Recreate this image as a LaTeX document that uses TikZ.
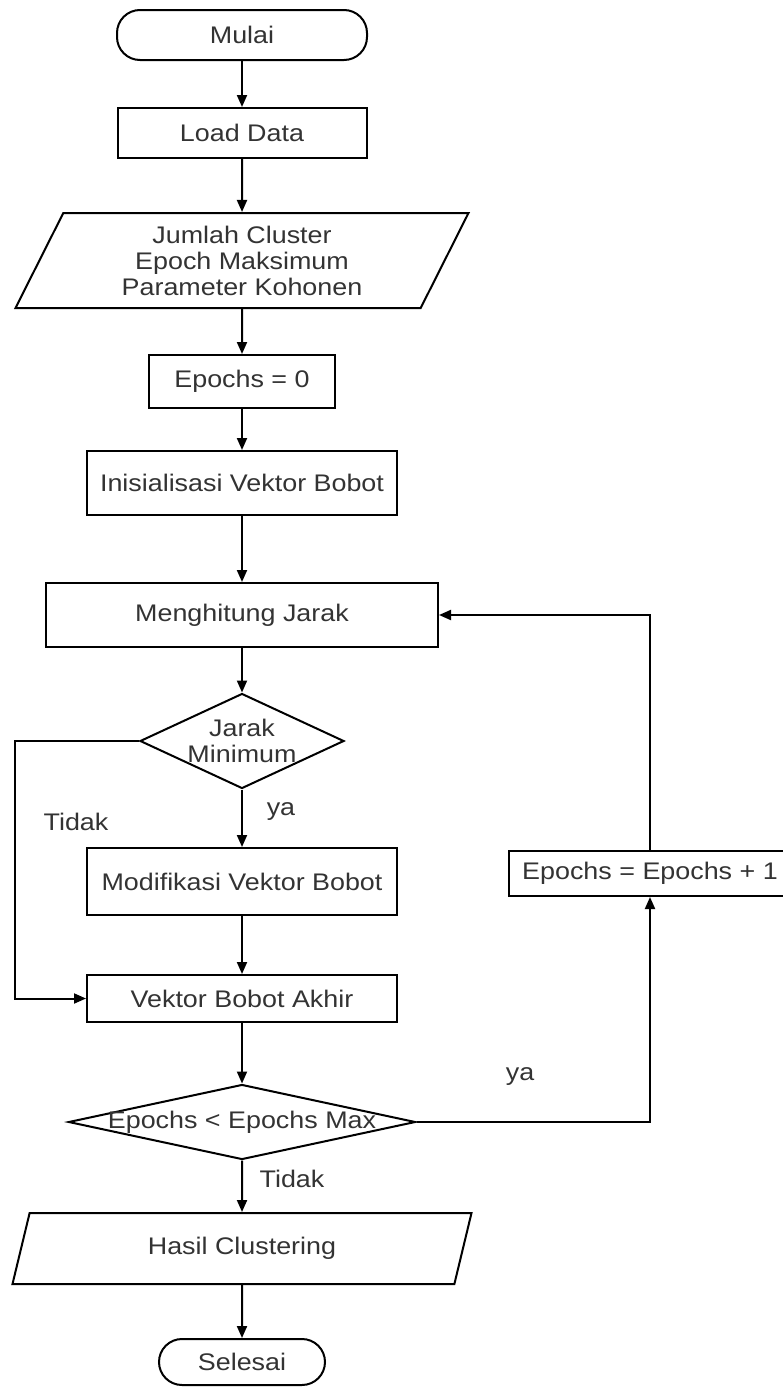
\documentclass[tikz,border=0pt]{standalone}
\usepackage{fontspec}
\setmainfont{Liberation Sans}[FakeStretch=1.12]
\usetikzlibrary{shapes}
\usetikzlibrary{shapes.geometric}
\usetikzlibrary{arrows.meta}

\tikzset{
  base/.style={draw, line width=2pt, text=black!80, inner sep=2pt},
  terminal/.style={base, rectangle, rounded corners=23pt},
  proses/.style={base, rectangle},
  io/.style={base, trapezium, trapezium left angle=57, trapezium right angle=123, trapezium stretches body, align=center},
  keputusan/.style={base, diamond, inner sep=0pt},
  teks/.style={text=black!80},
  panah/.style={line width=2pt, -{Triangle[length=12pt,width=10pt]}},
}

\begin{document}
\begin{tikzpicture}[x=1pt, y=-1pt, font=\fontsize{24}{26}\selectfont]
        \useasboundingbox (0,0) rectangle (783,1387);
        \node[terminal, minimum width=250pt, minimum height=50pt] at (242,35) (mulai) {Mulai};
        \node[proses, minimum width=249pt, minimum height=50pt] at (242,133) (load) {Load Data};
        \node[io, minimum width=453pt, minimum height=95pt] at (242,260.5) (param) {Jumlah Cluster\\Epoch Maksimum\\Parameter Kohonen};
        \node[proses, minimum width=186pt, minimum height=53pt] at (242,381.5) (epoch0) {Epochs = 0};
        \node[proses, minimum width=310pt, minimum height=64pt] at (242,483) (inisial) {Inisialisasi Vektor Bobot};
        \node[proses, minimum width=392pt, minimum height=64pt] at (242,615) (hitung) {Menghitung Jarak};
        \node[keputusan, minimum width=204pt, minimum height=95pt, label={[align=center, teks]center:Jarak\\Minimum}] at (242,741) (jarak) {};
        \node[proses, minimum width=310pt, minimum height=67pt] at (242,881.5) (modif) {Modifikasi Vektor Bobot};
        \node[proses, minimum width=310pt, minimum height=47pt] at (242,998.5) (akhir) {Vektor Bobot Akhir};
        \node[keputusan, minimum width=347pt, minimum height=75pt, label={[teks]center:Epochs < Epochs Max}] at (242,1122) (cek) {};
        \node[io, minimum width=459pt, minimum height=71pt] at (242,1248.5) (hasil) {Hasil Clustering};
        \node[terminal, minimum width=166pt, minimum height=46pt] at (242,1362) (selesai) {Selesai};
        \node[proses, minimum width=282pt, minimum height=45pt] at (650,873.5) (tambah) {Epochs = Epochs + 1};
        \coordinate (kiri) at (15,741);
        \node[teks] at (281,812) (ya1) {ya};
        \node[teks] at (76,822) (tidak1) {Tidak};
        \node[teks] at (520,1077) (ya2) {ya};
        \node[teks] at (292,1179) (tidak2) {Tidak};
        \draw[panah] (mulai) -- (load);
        \draw[panah] (load) -- (param);
        \draw[panah] (param) -- (epoch0);
        \draw[panah] (epoch0) -- (inisial);
        \draw[panah] (inisial) -- (hitung);
        \draw[panah] (hitung) -- (jarak);
        \draw[panah] (jarak) -- (modif);
        \draw[panah] (modif) -- (akhir);
        \draw[panah] (jarak.west) -- (kiri) |- (akhir.west);
        \draw[panah] (akhir) -- (cek);
        \draw[panah] (cek) -- (hasil);
        \draw[panah] (hasil) -- (selesai);
        \draw[panah] (cek.east) -| (tambah.south);
        \draw[panah] (tambah.north) |- (hitung.east);
\end{tikzpicture}
\end{document}
